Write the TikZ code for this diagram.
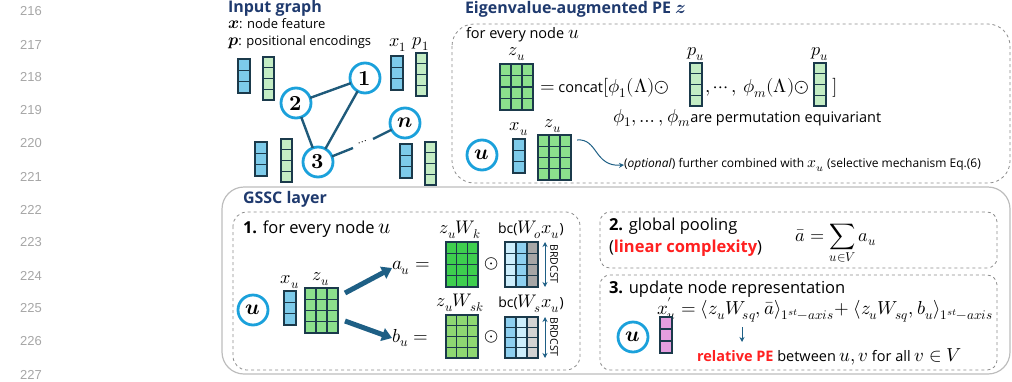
\documentclass[tikz,border=0pt]{standalone}
\usepackage{amsmath}
\usepackage{fontspec}
\usepackage{unicode-math}
\setmainfont{Open Sans}
\setmathfont{Latin Modern Math}[Scale=1.3]
\newfontfamily\numfont{Liberation Sans}
\usetikzlibrary{arrows.meta}
\definecolor{navy}{HTML}{1F3A6E}
\definecolor{teal}{HTML}{1F5A7A}
\definecolor{arrowc}{HTML}{1E5F85}
\definecolor{ringc}{HTML}{1BA1DB}
\definecolor{cellb}{HTML}{1B3A4B}
\definecolor{xblue}{HTML}{7DCBEA}
\definecolor{pgreen}{HTML}{C4EDC4}
\definecolor{zgreen}{HTML}{8CE08C}
\definecolor{kgreen}{HTML}{3ECF4E}
\definecolor{skgreen}{HTML}{8ED872}
\definecolor{lblue}{HTML}{CDEEFC}
\definecolor{mblue}{HTML}{8ED0F0}
\definecolor{dgray}{HTML}{A6A6A6}
\definecolor{lgray}{HTML}{D3D3D3}
\definecolor{pink}{HTML}{E59EDF}
\definecolor{hred}{HTML}{FF2020}
\definecolor{boxgray}{HTML}{8C8C8C}
\definecolor{outergray}{HTML}{BDBDBD}
\newcommand\cells[6]{%
  \foreach \i in {1,...,#5}{\draw[cell, fill=#6] ({#1},{#2+(\i-1)*#4}) rectangle ++(#3,#4);}}
\newcommand\mat[8]{%
  \cells{#1}{#2}{#3}{#4}{#5}{#6}%
  \cells{#1+#3}{#2}{#3}{#4}{#5}{#7}%
  \cells{#1+2*#3}{#2}{#3}{#4}{#5}{#8}}
\begin{document}
\begin{tikzpicture}[x=1pt,y=-1pt,
  every node/.style={inner sep=0pt, outer sep=0pt},
  cell/.style={draw=cellb, line width=1.2pt},
  lineno/.style={font=\numfont\fontsize{13}{13}\selectfont, text=black!35},
  title/.style={font=\fontsize{16}{16}\selectfont\bfseries, text=navy, anchor=west},
  txt/.style={font=\fontsize{14.5}{16}\selectfont, anchor=west},
  big/.style={font=\fontsize{16.5}{18}\selectfont, anchor=west},
  small/.style={font=\fontsize{12}{14}\selectfont, anchor=west},
  lbl/.style={font=\fontsize{14}{16}\selectfont},
  gnode/.style={circle, draw=ringc, line width=2.8pt, fill=white, minimum size=30pt, font=\fontsize{16.5}{16.5}\selectfont},
  gedge/.style={draw=teal, line width=2.4pt},
  dashbox/.style={draw=boxgray, dashed, line width=0.8pt},
  outerbox/.style={draw=outergray, line width=1.2pt},
  fat/.style={draw=arrowc, line width=5pt, -{Triangle[length=10pt,width=13pt]}},
  thin/.style={draw=arrowc, line width=1pt, -{Stealth[length=5pt,width=5pt]}},
  brd/.style={draw=arrowc, line width=1pt, {Stealth[length=5pt,width=5pt]}-{Stealth[length=5pt,width=5pt]}},
]
\useasboundingbox (0,0) rectangle (1012,381);
% line numbers
\foreach \n [count=\k from 0] in {216,...,227}
  \node[lineno] (ln\n) at (31,{11.5+33*\k}) {\n};

% ---------------- Input graph ----------------
\node[title] (tin) at (228,8) {Input graph};
\node[font=\fontsize{13}{15}\selectfont, anchor=west] (lx) at (228,24) {$\symbfit{x}$: node feature};
\node[font=\fontsize{13}{15}\selectfont, anchor=west] (lp) at (228,42) {$\symbfit{p}$: positional encodings};
\node[lbl] (x1l) at (398,45) {$x_1$};
\node[lbl] (p1l) at (421,44) {$p_1$};
\cells{238}{59}{12}{11.3}{3}{xblue}
\cells{263}{57}{11}{10.75}{4}{pgreen}
\cells{391}{56}{12}{11.3}{3}{xblue}
\cells{416}{53}{11}{10.75}{4}{pgreen}
\cells{255}{142}{12}{11.3}{3}{xblue}
\cells{281}{139}{11}{10.75}{4}{pgreen}
\cells{400}{144}{12}{11.3}{3}{xblue}
\cells{425}{142}{11}{10.75}{4}{pgreen}
\node[gnode] (n1) at (365,78) {$\symbfup{1}$};
\node[gnode] (n2) at (296,103) {$\symbfup{2}$};
\node[gnode] (n3) at (318,162) {$\symbfup{3}$};
\node[gnode] (nn) at (405,123) {$\symbfit{n}$};
\coordinate (d1) at (353,148);
\coordinate (d2) at (373,139);
\node[rotate=20, font=\fontsize{9}{9}\selectfont] (dots) at (363,143) {$\cdots$};
\draw[gedge] (n2) -- (n1);
\draw[gedge] (n2) -- (n3);
\draw[gedge] (n1) -- (n3);
\draw[gedge] (n3) -- (d1);
\draw[gedge] (d2) -- (nn);

% ---------------- Eigenvalue-augmented PE ----------------
\node[title, anchor=base west] (teig) at (465,13.5) {Eigenvalue-augmented PE {\fontsize{14}{14}\selectfont$\symbfit{z}$}};
\draw[dashbox, rounded corners=22pt] (452,24) rectangle (1010,183);
\node[txt] (efor) at (466,35) {for every node $u$};
\node[lbl] (ezl) at (517,54) {$z_u$};
\mat{500}{64}{11}{11.5}{4}{zgreen}{zgreen}{zgreen}
\node[txt] (eq) at (540,88) {$=$ concat$[\phi_1(\Lambda)\odot$};
\cells{690}{63}{12}{10.75}{4}{pgreen}
\node[lbl] (pu1) at (696,54) {$p_u$};
\node[txt] (emid) at (705,88) {$,\cdots,\ \phi_m(\Lambda)\odot$};
\cells{814}{63}{12}{10.75}{4}{pgreen}
\node[lbl] (pu2) at (820,54) {$p_u$};
\node[txt] (ebr) at (832,88) {$]$};
\node[txt] (eperm) at (613,118) {$\phi_1,\dots,\phi_m$are permutation equivariant};
\node[gnode] (eu) at (482,155) {$\symbfit{u}$};
\node[lbl] (exl) at (519,129) {$x_u$};
\cells{513}{139}{12}{11.3}{3}{xblue}
\node[lbl] (ezl2) at (553,126) {$z_u$};
\mat{538}{135}{11}{11.25}{4}{zgreen}{zgreen}{zgreen}
\node[small] (eopt) at (624,165) {(\textit{optional}) further combined with $x_u$ (selective mechanism Eq.(6)};
\coordinate (eza) at (577,140);
\draw[thin] (eza) .. controls (598,138) and (594,167) .. (eopt.west);

% ---------------- GSSC layer ----------------
\draw[outerbox, rounded corners=22pt] (222,187) rectangle (1010,374);
\node[title] (tgssc) at (243,199) {GSSC layer};
\draw[dashbox, rounded corners=14pt] (233,212) rectangle (580,370);
\node[big] (g1) at (243,229) {\textbf{1.} for every node $u$};
\node[gnode] (gu) at (253,310) {$\symbfit{u}$};
\node[lbl] (gxl) at (290,282) {$x_u$};
\cells{284}{291}{12}{11.3}{3}{xblue}
\node[lbl] (gzl) at (321,279) {$z_u$};
\mat{305}{288}{11}{11.25}{4}{zgreen}{zgreen}{zgreen}
\node[txt] (au) at (392,268) {$a_u =$};
\node[txt] (bu) at (392,338) {$b_u =$};
\coordinate (ga1) at (345,293);
\coordinate (ga2) at (345,321);
\draw[fat] (ga1) -- (au.west);
\draw[fat] (ga2) -- (bu.west);
% a_u row
\node[lbl] (kl) at (460,230) {$z_uW_k$};
\mat{446}{242}{10.67}{11.25}{4}{kgreen}{kgreen}{kgreen}
\node[lbl] (od1) at (492,264) {$\odot$};
\node[lbl] (bcl1) at (531,230) {bc($W_o x_u$)};
\mat{505}{242}{11}{11.25}{4}{lblue}{mblue}{dgray}
\coordinate (b1t) at (545,242);
\coordinate (b1b) at (545,287);
\draw[brd] (b1t) -- (b1b);
\node[rotate=-90, font=\fontsize{10.5}{11}\selectfont] (brd1) at (554,264) {BRDCST};
% b_u row
\node[lbl] (skl) at (460,303) {$z_uW_{sk}$};
\mat{446}{315}{10.67}{10.75}{4}{skgreen}{skgreen}{skgreen}
\node[lbl] (od2) at (492,337) {$\odot$};
\node[lbl] (bcl2) at (531,304) {bc($W_s x_u$)};
\mat{505}{317}{11}{10.25}{4}{mblue}{lblue}{lgray}
\coordinate (b2t) at (545,317);
\coordinate (b2b) at (545,358);
\draw[brd] (b2t) -- (b2b);
\node[rotate=-90, font=\fontsize{10.5}{11}\selectfont] (brd2) at (554,337) {BRDCST};

% box 2
\draw[dashbox, rounded corners=10pt] (600,212) rectangle (997,268);
\node[big] (g2a) at (609,226) {\textbf{2.} global pooling};
\node[big] (g2b) at (609,248) {(\textcolor{hred}{\textbf{linear complexity}})};
\node[font=\fontsize{14}{16}\selectfont] (g2c) at (836,244) {$\bar{a} = \displaystyle\sum_{u\in V} a_u$};

% box 3
\draw[dashbox, rounded corners=10pt] (600,275) rectangle (997,370);
\node[big] (g3a) at (609,289) {\textbf{3.} update node representation};
\node[font=\fontsize{14.5}{16}\selectfont, anchor=west] (g3f) at (657,310)
  {$x'_u = \langle z_u W_{sq}, \bar{a}\rangle_{1^{st}-axis}\!+ \langle z_u W_{sq}, b_u\rangle_{1^{st}-axis}$};
\node[gnode] (g3u) at (633,337) {$\symbfit{u}$};
\cells{660}{317}{12}{12}{3}{pink}
\node[txt] (rel) at (697,357) {\textcolor{hred}{\textbf{relative PE}} between $u, v$ for all $v \in V$};
\coordinate (wsq) at (742,327);
\coordinate (wsqe) at (742,342);
\draw[thin] (wsq) -- (wsqe);
\end{tikzpicture}
\end{document}
